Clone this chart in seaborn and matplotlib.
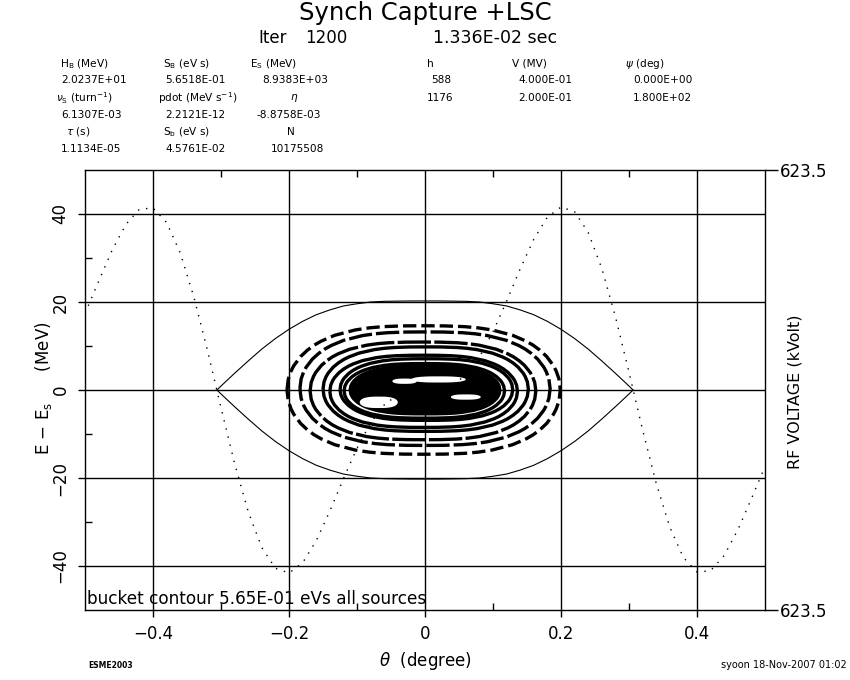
import numpy as np
import pandas as pd
import matplotlib
matplotlib.use("Agg")
import matplotlib.pyplot as plt
import seaborn as sns
from matplotlib.ticker import FixedLocator, FuncFormatter

# ---------------- data ----------------
# RF voltage (kV) sampled every 0.02 degree from -0.5 to 0.5
rf_theta = np.linspace(-0.5, 0.5, 51)
rf_kv = [216.8, 308.0, 396.6, 469.0, 512.2, 515.9, 474.8, 388.8, 264.4, 113.0,
         -50.2, -208.2, -344.6, -446.6, -505.3, -518.7, -489.8, -427.4, -343.4, -251.6,
         -165.0, -93.3, -42.4, -13.2, -1.7, 0.0, 1.7, 13.2, 42.4, 93.3,
         165.0, 251.6, 343.4, 427.4, 489.8, 518.7, 505.3, 446.6, 344.6, 208.2,
         50.2, -113.0, -264.4, -388.8, -474.8, -515.9, -512.2, -469.0, -396.6, -308.0,
         -216.8]

# bucket separatrix (upper half; lower half is its mirror)
sep_theta = [-0.306, -0.30, -0.28, -0.26, -0.24, -0.22, -0.20, -0.18, -0.16, -0.14,
             -0.12, -0.10, -0.08, -0.06, -0.04, -0.02, 0.0, 0.02, 0.04, 0.06,
             0.08, 0.10, 0.12, 0.14, 0.16, 0.18, 0.20, 0.22, 0.24, 0.26,
             0.28, 0.30, 0.306]
sep_e = [0.0, 0.9, 3.8, 6.6, 9.3, 11.7, 13.8, 15.6, 17.1, 18.2,
         19.1, 19.6, 20.0, 20.15, 20.2, 20.24, 20.24, 20.24, 20.2, 20.15,
         20.0, 19.6, 19.1, 18.2, 17.1, 15.6, 13.8, 11.7, 9.3, 6.6,
         3.8, 0.9, 0.0]

# particle contour rings: centre offsets, half-widths (deg), half-heights (MeV)
ring_center_theta = [-0.002, 0.000, -0.003, 0.001, -0.002, 0.002, -0.001]
ring_center_e = [0.0, 0.3, -0.2, 0.2, -0.3, 0.1, -0.2]
ring_half_width = [0.201, 0.184, 0.166, 0.151, 0.138, 0.127, 0.118]
ring_half_height = [14.6, 12.9, 11.1, 9.6, 8.2, 7.0, 6.2]
core_half_width = 0.110
core_half_height = 5.4
# white gaps inside the dense core
hole_theta = [-0.068, 0.020, -0.030, 0.060]
hole_e = [-2.8, 2.4, 2.0, -1.6]
hole_half_width = [0.028, 0.040, 0.018, 0.022]
hole_half_height = [1.3, 0.7, 0.6, 0.6]
# common normalised ring profile (upper half)
profile_u = [0.0, 0.15, 0.3, 0.4, 0.5, 0.65, 0.75, 0.8, 0.85, 0.9, 0.95, 0.97, 0.99, 1.0]
profile_v = [1.0, 0.998, 0.986, 0.967, 0.935, 0.852, 0.760, 0.699, 0.621, 0.521,
             0.378, 0.295, 0.172, 0.0]

x_major = [-0.4, -0.2, 0.0, 0.2, 0.4]
x_minor = [-0.3, -0.1, 0.1, 0.3]
y_major = [-40, -20, 0, 20, 40]
y_minor = [-30, -10, 10, 30]
rf_limit = 623.5

# ---------------- styling ----------------
sns.set_theme(style="white")
plt.rcParams["font.family"] = ["DejaVu Sans"]
plt.rcParams["mathtext.fontset"] = "dejavusans"
plt.rcParams["text.color"] = "black"
plt.rcParams["axes.labelcolor"] = "black"
plt.rcParams["xtick.color"] = "black"
plt.rcParams["ytick.color"] = "black"

fig = plt.figure(figsize=(8.5, 6.8), dpi=100)
W, H = 850.0, 680.0
ax = fig.add_axes([85 / W, 1 - 610 / H, 680 / W, 440 / H])
ax.set_facecolor("white")


def ring_points(a, b, x0=0.0, y0=0.0):
    u = np.array(profile_u)
    v = np.array(profile_v)
    top_u = np.concatenate([-u[::-1], u[1:]])
    top_v = np.concatenate([v[::-1], v[1:]])
    xs = np.concatenate([top_u, top_u[::-1][1:]]) * a + x0
    ys = np.concatenate([top_v, -top_v[::-1][1:]]) * b + y0
    return xs, ys


# separatrix
sep_df = pd.DataFrame({"theta": sep_theta, "e": sep_e})
sns.lineplot(data=sep_df, x="theta", y="e", ax=ax, color="black", lw=0.8,
             sort=False, estimator=None)
sns.lineplot(x=sep_df["theta"], y=-sep_df["e"], ax=ax, color="black", lw=0.8,
             sort=False, estimator=None)

# particle contours
cx, cy = ring_points(core_half_width, core_half_height)
ax.fill(cx, cy, color="black", lw=2.5)
dash_styles = [(0, (4, 1.5)), (2, (7, 1.2)), (0, (10, 1.0))]
for i, (x0, y0, a, b) in enumerate(zip(ring_center_theta, ring_center_e,
                                        ring_half_width, ring_half_height)):
    xs, ys = ring_points(a, b, x0, y0)
    ls = dash_styles[i] if i < len(dash_styles) else "-"
    ax.plot(xs, ys, color="black", lw=2.4, linestyle=ls, solid_capstyle="butt")
for x0, y0, a, b in zip(hole_theta, hole_e, hole_half_width, hole_half_height):
    hx, hy = ring_points(a, b, x0, y0)
    ax.fill(hx, hy, color="white", lw=0)

ax.set_xlim(-0.5, 0.5)
ax.set_ylim(-50, 50)
ax.xaxis.set_major_locator(FixedLocator(x_major))
ax.xaxis.set_minor_locator(FixedLocator(x_minor))
ax.yaxis.set_major_locator(FixedLocator(y_major))
ax.yaxis.set_minor_locator(FixedLocator(y_minor))
ax.xaxis.set_major_formatter(FuncFormatter(
    lambda v, p: "0" if abs(v) < 1e-9 else f"{v:.1f}".replace("-", "\u2212")))
ax.yaxis.set_major_formatter(FuncFormatter(
    lambda v, p: f"{int(round(v))}".replace("-", "\u2212")))
ax.grid(True, which="major", color="black", lw=1.0)
ax.tick_params(which="major", direction="out", length=5, width=1, color="black",
               labelsize=12, labelcolor="black", bottom=True, left=True, pad=6)
ax.tick_params(which="minor", direction="in", length=5, width=1, color="black",
               bottom=True, top=True, left=True, right=True)
for lab in ax.get_yticklabels():
    lab.set_rotation(90)
    lab.set_va("center")
for s in ax.spines.values():
    s.set_color("black")
    s.set_linewidth(1.0)
ax.set_xlabel("")
ax.set_ylabel("")

# RF voltage on twin axis
ax2 = ax.twinx()
sns.lineplot(x=rf_theta, y=rf_kv, ax=ax2, color="black", lw=1.0,
             linestyle=(0, (1, 5)), sort=False, estimator=None)
ax2.set_ylim(-rf_limit, rf_limit)
ax2.yaxis.set_major_locator(FixedLocator([-rf_limit, rf_limit]))
ax2.yaxis.set_major_formatter(FuncFormatter(lambda v, p: f"{abs(v):.1f}"))
ax2.tick_params(axis="y", direction="out", length=9, width=1, color="black",
                labelsize=12, labelcolor="black", pad=2)
ax2.set_ylabel("")
ax2.grid(False)
for s in ax2.spines.values():
    s.set_visible(False)

ax.text(0.003, 0.026, "bucket contour 5.65E-01 eVs all sources", fontsize=12.2,
        ha="left", va="center", color="black", transform=ax.transAxes)

# axis labels
fig.text(425 / W, 1 - 661 / H, r"$\theta$  (degree)", ha="center", va="center", fontsize=12)
fig.text(43 / W, 1 - 388 / H, r"E $-$ E$_\mathrm{s}$      (MeV)", ha="center", va="center",
         fontsize=12, rotation=90)
fig.text(795 / W, 1 - 392 / H, "RF VOLTAGE (kVolt)", ha="center", va="center",
         fontsize=11.5, rotation=90)

# header
fig.text(425 / W, 1 - 13 / H, "Synch Capture +LSC", ha="center", va="center", fontsize=17.5)
fig.text(258 / W, 1 - 38 / H, "Iter", ha="left", va="center", fontsize=12)
fig.text(305 / W, 1 - 38 / H, "1200", ha="left", va="center", fontsize=12)
fig.text(433 / W, 1 - 38 / H, "1.336E-02 sec", ha="left", va="center", fontsize=12.5)

fs = 7.6
rows = [64, 80, 98, 115, 132, 149]
header_cells = [
    (60, rows[0], r"H$_\mathrm{B}$ (MeV)"), (163, rows[0], r"S$_\mathrm{B}$ (eV s)"),
    (250, rows[0], r"E$_\mathrm{S}$ (MeV)"),
    (61, rows[1], "2.0237E+01"), (165, rows[1], "5.6518E-01"), (262, rows[1], "8.9383E+03"),
    (56, rows[2], r"$\nu_\mathrm{S}$ (turn$^{-1}$)"), (158, rows[2], r"pdot (MeV s$^{-1}$)"),
    (290, rows[2], r"$\eta$"),
    (61, rows[3], "6.1307E-03"), (165, rows[3], "2.2121E-12"), (256, rows[3], "-8.8758E-03"),
    (66, rows[4], r"$\tau$ (s)"), (163, rows[4], r"S$_\mathrm{b}$ (eV s)"), (287, rows[4], "N"),
    (61, rows[5], "1.1134E-05"), (165, rows[5], "4.5761E-02"), (271, rows[5], "10175508"),
    (427, rows[0], "h"), (512, rows[0], "V (MV)"), (625, rows[0], r"$\psi$ (deg)"),
    (431, rows[1], "588"), (518, rows[1], "4.000E-01"), (633, rows[1], "0.000E+00"),
    (427, rows[2], "1176"), (518, rows[2], "2.000E-01"), (633, rows[2], "1.800E+02"),
]
for x, y, t in header_cells:
    fig.text(x / W, 1 - y / H, t, ha="left", va="center", fontsize=fs)

fig.text(88 / W, 1 - 665 / H, "ESME2003", ha="left", va="center", fontsize=5.5,
         fontweight="bold")
fig.text(847 / W, 1 - 665 / H, "syoon 18-Nov-2007 01:02", ha="right", va="center", fontsize=7)

fig.savefig("out.png", dpi=100, facecolor="white")
